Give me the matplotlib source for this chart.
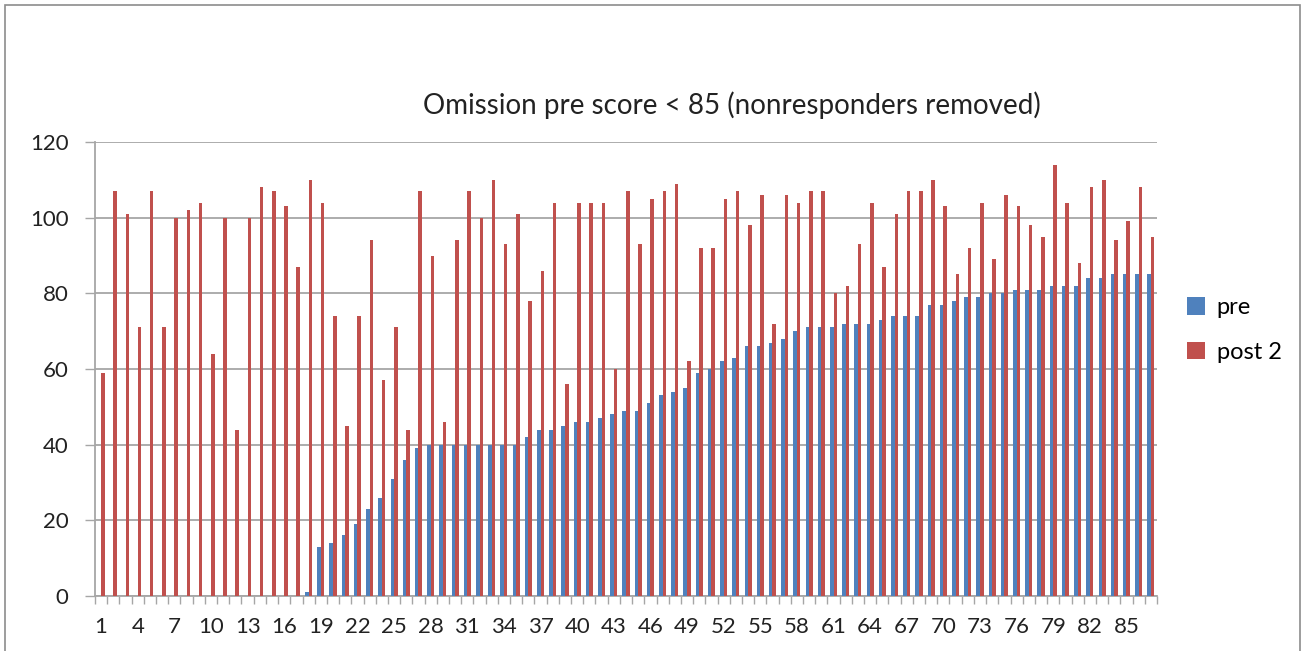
import matplotlib
matplotlib.use("Agg")
import matplotlib.pyplot as plt
from matplotlib.patches import Rectangle
import numpy as np

# Omission scores per subject (1..87).
pre = [0] * 17 + [1, 13, 14, 16, 19, 23, 26, 31, 36, 39, 40, 40, 40, 40, 40, 40,
                  40, 40, 42, 44, 44, 45, 46, 46, 47, 48, 49, 49, 51, 53, 54, 55,
                  59, 60, 62, 63, 66, 66, 67, 68, 70, 71, 71, 71, 72, 72, 72, 73,
                  74, 74, 74, 77, 77, 78, 79, 79, 80, 80, 81, 81, 81, 82, 82, 82,
                  84, 84, 85, 85, 85, 85]
post2 = [59, 107, 101, 71, 107, 71, 100, 102, 104, 64, 100, 44, 100, 108, 107,
         103, 87, 110, 104, 74, 45, 74, 94, 57, 71, 44, 107, 90, 46, 94, 107,
         100, 110, 93, 101, 78, 86, 104, 56, 104, 104, 104, 60, 107, 93, 105,
         107, 109, 62, 92, 92, 105, 107, 98, 106, 72, 106, 104, 107, 107, 80,
         82, 93, 104, 87, 101, 107, 107, 110, 103, 85, 92, 104, 89, 106, 103,
         98, 95, 114, 104, 88, 108, 110, 94, 99, 108, 95]
subjects = np.arange(1, len(post2) + 1)
tick_labels = [str(s) for s in subjects[::3]]

BLUE = "#4F81BD"
RED = "#C0504D"
GRID = "#A6A6A6"
plt.rcParams["font.family"] = ["Lato", "DejaVu Sans"]

fig = plt.figure(figsize=(13.11, 6.51), dpi=100)
ax = fig.add_axes([95 / 1311, 55 / 651, 1062 / 1311, 454 / 651])

w = 0.29
ax.bar(subjects - w / 2, pre, width=w, color=BLUE, label="pre", zorder=3)
ax.bar(subjects + w / 2, post2, width=w, color=RED, label="post 2", zorder=3)

ax.set_xlim(0.5, len(subjects) + 0.5)
ax.set_ylim(0, 120)
ax.set_yticks(range(0, 121, 20))
ax.yaxis.grid(True, color=GRID, lw=1.3, zorder=0)
ax.set_xticks(subjects[::3])
ax.set_xticklabels(tick_labels)
ax.set_xticks(np.arange(0.5, len(subjects) + 1), minor=True)
ax.tick_params(axis="x", which="major", length=0, labelsize=16, pad=15, colors="#222222")
ax.tick_params(axis="x", which="minor", length=6, color=GRID, width=1)
ax.tick_params(axis="y", length=7, color=GRID, width=1, labelsize=16, pad=12, labelcolor="#222222")
for side in ("top", "right"):
    ax.spines[side].set_visible(False)
for side in ("left", "bottom"):
    ax.spines[side].set_color(GRID)
    ax.spines[side].set_linewidth(1.3)

fig.text(732 / 1311, 1 - 105 / 651, "Omission pre score < 85 (nonresponders removed)",
         ha="center", va="center", fontsize=20, color="#222222")

leg = fig.legend(loc="center left", bbox_to_anchor=(1166 / 1311, 1 - 330 / 651),
                 frameon=False, fontsize=17, handlelength=0.75, handleheight=0.75,
                 labelspacing=1.0, handletextpad=0.5)

# chart-area border
fig.patches.append(Rectangle((5 / 1311, -0.05), 1295 / 1311, 1.05 - 5 / 651,
                             transform=fig.transFigure, fill=False,
                             edgecolor="#8C8C8C", lw=1.2))

fig.savefig("out.png", dpi=100)
